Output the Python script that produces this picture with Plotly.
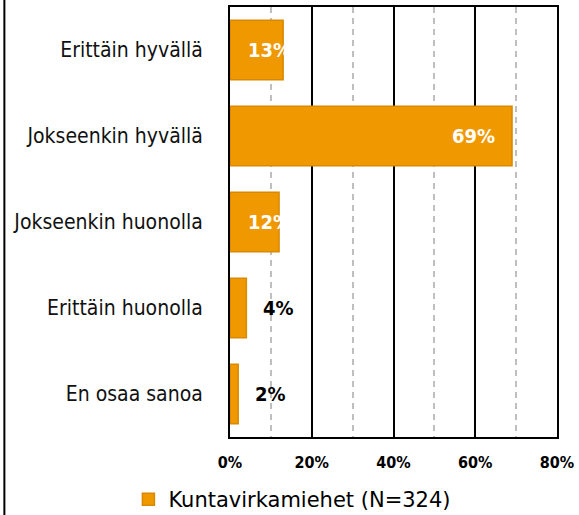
import plotly.graph_objects as go

categories = ["Erittäin hyvällä", "Jokseenkin hyvällä", "Jokseenkin huonolla",
              "Erittäin huonolla", "En osaa sanoa"]
values = [13, 69, 12, 4, 2]
series_name = "Kuntavirkamiehet (N=324)"
tick_vals = [0, 20, 40, 60, 80]
tick_text = ["0%", "20%", "40%", "60%", "80%"]

BAR = "#F09800"
BAR_EDGE = "#D98900"
COND = "DejaVu Sans Condensed, DejaVu Sans, sans-serif"

W, H = 579, 515
ML, MR, MT, MB = 230, 20, 5, 78

fig = go.Figure()
fig.add_trace(go.Bar(
    y=categories, x=values, orientation="h", name=series_name,
    marker=dict(color=BAR, line=dict(color=BAR_EDGE, width=1.5)),
    showlegend=True,
))

annotations = []
for cat, v in zip(categories, values):
    label = f"{v}%"
    if v >= 30:
        annotations.append(dict(x=v, y=cat, text=f"<b>{label}</b>", showarrow=False,
                                xanchor="right", xshift=-15,
                                font=dict(family=COND, size=20, color="white")))
    elif v >= 10:
        annotations.append(dict(x=0, y=cat, text=f"<b>{label}</b>", showarrow=False,
                                xanchor="left", xshift=16,
                                font=dict(family=COND, size=20, color="white")))
    else:
        annotations.append(dict(x=v, y=cat, text=f"<b>{label}</b>", showarrow=False,
                                xanchor="left", xshift=15,
                                font=dict(family=COND, size=20, color="black")))

plot_w = W - ML - MR
fig.update_layout(
    width=W, height=H,
    margin=dict(l=ML, r=MR, t=MT, b=MB),
    paper_bgcolor="white", plot_bgcolor="white",
    bargap=0.31,
    annotations=annotations,
    showlegend=True,
    legend=dict(orientation="h", xref="container", yref="container",
                x=0.505, y=0.03, xanchor="center", yanchor="middle",
                font=dict(family="DejaVu Sans, sans-serif", size=21, color="black"),
                itemclick=False),
    shapes=[dict(type="line", xref="paper", yref="paper",
                 x0=-(ML - 3) / plot_w, x1=-(ML - 3) / plot_w, y0=-1, y1=2,
                 line=dict(color="black", width=2))],
    xaxis=dict(range=[0, 80], tickvals=tick_vals, ticktext=tick_text,
               showgrid=True, gridcolor="black", gridwidth=1.5,
               minor=dict(dtick=10, tick0=0, showgrid=True, gridcolor="#BFBFBF",
                          gridwidth=1.5, griddash="6px,5px"),
               showline=True, mirror=True, linecolor="black", linewidth=2,
               ticks="", ticklabelstandoff=10, zeroline=False,
               tickfont=dict(family=COND, size=16, color="black", weight="bold")),
    yaxis=dict(autorange="reversed", showgrid=False, showline=True, mirror=True,
               linecolor="black", linewidth=2, ticks="", ticklabelstandoff=21,
               tickfont=dict(family=COND, size=21, color="#111111")),
)

fig.write_html("out.html", config={"displayModeBar": False},
               post_script="document.body.style.margin='0';document.body.style.padding='0';")
